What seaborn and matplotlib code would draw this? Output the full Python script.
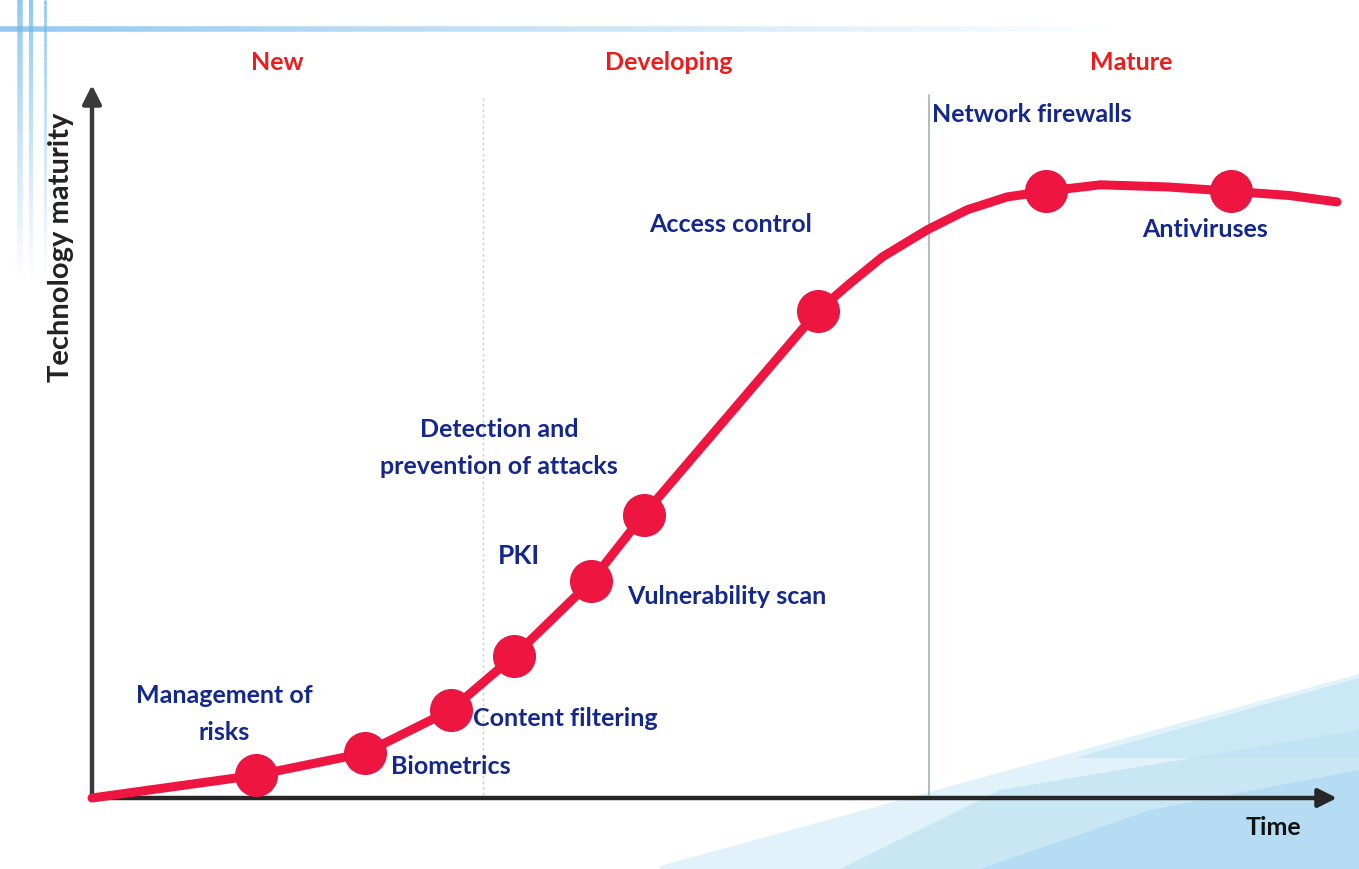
import matplotlib
matplotlib.use("Agg")
import matplotlib.pyplot as plt
import seaborn as sns
import pandas as pd
from matplotlib.patches import Polygon
from matplotlib.transforms import Affine2D

# S-curve (time vs technology maturity, 0-100 scale)
curve_time = [0, 13.2, 21.9, 28.8, 33.9, 40.1, 44.3, 58.3, 60.9, 63.5, 67.1, 70.3,
              73.5, 76.6, 81.0, 86.4, 91.5, 96.2, 100.0]
curve_maturity = [0, 3.2, 6.3, 12.3, 19.9, 30.4, 39.7, 68.3, 72.2, 75.9, 79.7, 82.5,
                  84.3, 85.1, 86.0, 85.7, 85.1, 84.5, 83.6]

# technologies sitting on the curve
tech_time = [13.2, 21.9, 28.8, 33.9, 40.1, 44.3, 58.3, 76.6, 91.5]
tech_maturity = [3.2, 6.3, 12.3, 19.9, 30.4, 39.7, 68.3, 85.1, 85.1]

labels = ["Management of\nrisks", "Biometrics", "Content filtering", "PKI",
          "Vulnerability scan", "Detection and\nprevention of attacks",
          "Access control", "Network firewalls", "Antiviruses"]
label_x = [10.6, 24.0, 30.6, 34.3, 43.0, 32.7, 51.3, 67.5, 89.4]
label_y = [11.8, 4.35, 11.1, 33.9, 28.3, 49.1, 80.4, 95.8, 79.8]
label_ha = ["center", "left", "left", "center", "left", "center", "center", "left", "center"]

phases = ["New", "Developing", "Mature"]
phase_x = [14.9, 46.3, 83.5]
phase_bounds = [31.4, 67.2]

W, H = 1359, 869
sns.set_theme(style="white")
plt.rcParams["font.family"] = ["Lato", "DejaVu Sans"]

fig = plt.figure(figsize=(W / 100, H / 100), dpi=100)
ax = fig.add_axes([0, 0, 1, 1])
ax.axis("off")

# background decoration (pixel coords)
px = Affine2D().scale(1 / W, -1 / H).translate(0, 1) + fig.transFigure
deco = [
    ([(660, 866), (1359, 674), (1359, 869), (660, 869)], "#e2f2fa", 1.0),
    ([(1075, 758), (1359, 678), (1359, 758)], "#c9e7f6", 0.9),
    ([(840, 869), (1000, 790), (1359, 730), (1359, 869)], "#bfe2f4", 0.7),
    ([(980, 869), (1150, 810), (1359, 770), (1359, 869)], "#a9d6f0", 0.6),
]
for pts, col, a in deco:
    fig.add_artist(Polygon(pts, closed=True, transform=px, facecolor=col,
                           edgecolor="none", alpha=a, zorder=0))

# top-left blue stripes, fading out
n = 60
for i in range(n):
    a = 0.75 * (1 - i / n)
    x0 = i * 1110 / n
    fig.add_artist(plt.Line2D([x0, x0 + 1110 / n], [29, 29], transform=px,
                              color="#6fb8ea", lw=4, alpha=a, zorder=0,
                              solid_capstyle="butt"))
    for vx, w in [(20, 4), (31, 3), (45, 2)]:
        y0 = i * 280 / n
        fig.add_artist(plt.Line2D([vx, vx], [y0, y0 + 280 / n], transform=px,
                                  color="#6fb8ea", lw=w, alpha=a, zorder=0,
                                  solid_capstyle="butt"))

# phase separators
ax.plot([phase_bounds[0]] * 2, [0.4, 98.6], color="#c8d4d0", lw=1, ls=(0, (2, 2)), zorder=1)
ax.plot([phase_bounds[1]] * 2, [0.4, 98.6], color="#9fb3ae", lw=1.2, zorder=1)

# axes with arrows
arrow = dict(arrowstyle="-|>", lw=3.2, color="#262626", mutation_scale=28,
             shrinkA=0, shrinkB=0)
ax.annotate("", xy=(100, 0), xytext=(0, 0), arrowprops=arrow, zorder=2)
ax.annotate("", xy=(0, 100), xytext=(0, 0), arrowprops=dict(arrow, color="#3a3a3a"), zorder=2)

# the curve and its technologies
df_curve = pd.DataFrame({"time": curve_time, "maturity": curve_maturity})
sns.lineplot(data=df_curve, x="time", y="maturity", ax=ax, color="#ee1540",
             lw=6.5, sort=False, zorder=3, solid_capstyle="round", solid_joinstyle="round")
df_tech = pd.DataFrame({"time": tech_time, "maturity": tech_maturity})
sns.scatterplot(data=df_tech, x="time", y="maturity", ax=ax, color="#ee1540",
                s=900, edgecolor="#e01a45", linewidth=1, zorder=4)
ax.set_xlim(-92 / 12.45, (W - 92) / 12.45)
ax.set_ylim(-(H - 798) / 7.13, 798 / 7.13)

navy = "#14288c"
for lab, x, y, ha in zip(labels, label_x, label_y, label_ha):
    ax.text(x, y, lab, ha=ha, va="center", color=navy, fontsize=19 if lab == "PKI" else 18,
            fontweight="bold", linespacing=1.75, zorder=5)

for ph, x in zip(phases, phase_x):
    ax.text(x, 103.2, ph, ha="center", va="center", color="#ee1c1c",
            fontsize=18, fontweight="bold")

ax.text(-2.45, 77.3, "Technology maturity", rotation=90, ha="center", va="center",
        color="#222222", fontsize=21, fontweight="bold")
ax.text(94.9, -4.1, "Time", ha="center", va="center", color="#111111",
        fontsize=18, fontweight="bold")

fig.savefig("out.png", dpi=100)
